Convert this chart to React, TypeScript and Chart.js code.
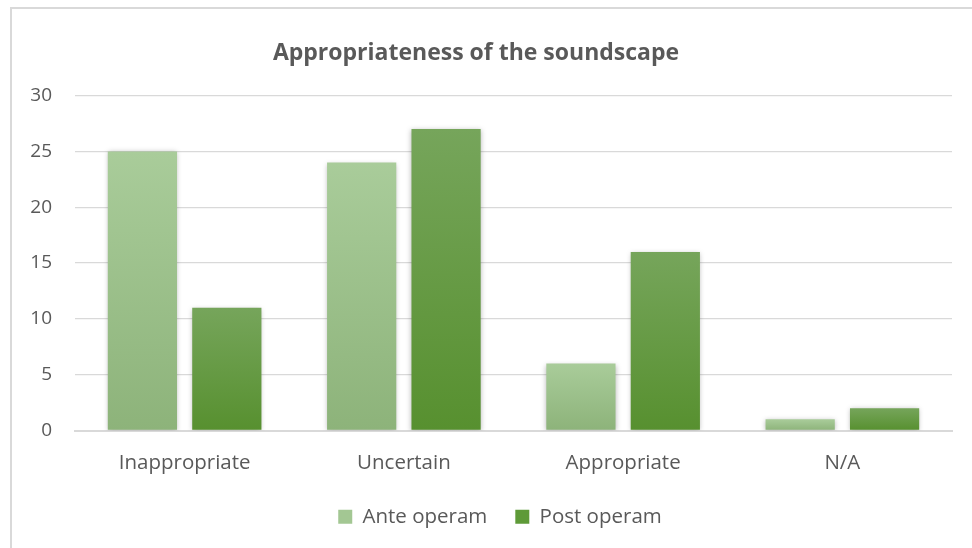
import React, { useEffect, useRef } from "react";
import { Chart, registerables } from "chart.js";

Chart.register(...registerables);

const categories = ["Inappropriate", "Uncertain", "Appropriate", "N/A"];
const anteOperam = [25, 24, 6, 1];
const postOperam = [11, 27, 16, 2];
const seriesNames = ["Ante operam", "Post operam"];
const chartTitle = "Appropriateness of the soundscape";

const FONT = "'Open Sans', Lato, sans-serif";
const TEXT = "#595959";

function barGradient(top: string, bottom: string, fallback: string) {
  return (ctx: any) => {
    const chart = ctx.chart;
    const area = chart.chartArea;
    if (!area || ctx.type !== "data") return fallback;
    const ys = chart.scales.y;
    const v = ctx.raw as number;
    const y0 = ys.getPixelForValue(v);
    const y1 = ys.getPixelForValue(0);
    if (!isFinite(y0) || !isFinite(y1) || y1 - y0 < 0.5) return fallback;
    const g = chart.ctx.createLinearGradient(0, y0, 0, y1);
    g.addColorStop(0, top);
    g.addColorStop(1, bottom);
    return g;
  };
}

const shadowPlugin = {
  id: "barShadow",
  afterLayout(chart: any) {
    if (chart.legend) {
      chart.legend.left += 24;
      chart.legend.right += 24;
    }
  },
  beforeDatasetsDraw(chart: any) {
    const c = chart.ctx;
    c.save();
    c.shadowColor = "rgba(0,0,0,0.28)";
    c.shadowBlur = 5;
    c.shadowOffsetX = 0;
    c.shadowOffsetY = 1;
  },
  afterDatasetsDraw(chart: any) {
    chart.ctx.restore();
  },
};

export default function App() {
  const ref = useRef<HTMLCanvasElement | null>(null);
  useEffect(() => {
    const canvas = ref.current;
    if (!canvas) return;
    const chart = new Chart(canvas, {
      type: "bar",
      data: {
        labels: categories,
        datasets: [
          {
            label: seriesNames[0],
            data: anteOperam,
            backgroundColor: barGradient("#A9CC9A", "#8DB37A", "#A3C793"),
            categoryPercentage: 0.77,
            barPercentage: 0.82,
          },
          {
            label: seriesNames[1],
            data: postOperam,
            backgroundColor: barGradient("#76A55B", "#57902F", "#5E9A38"),
            categoryPercentage: 0.77,
            barPercentage: 0.82,
          },
        ],
      },
      options: {
        responsive: false,
        animation: false,
        devicePixelRatio: 1,
        layout: { padding: { left: 0, right: 20, top: 0, bottom: 11 } },
        plugins: {
          title: {
            display: true,
            text: chartTitle,
            color: TEXT,
            font: { family: FONT, size: 23, weight: "bold" },
            padding: { top: 40, bottom: 28 },
          },
          legend: {
            position: "bottom",
            labels: {
              color: TEXT,
              font: { family: FONT, size: 20.5 },
              boxWidth: 14,
              boxHeight: 14,
              padding: 28,
              generateLabels: () => [
                { text: seriesNames[0], fillStyle: "#A3C793", strokeStyle: "#A3C793", lineWidth: 0, datasetIndex: 0, fontColor: TEXT } as any,
                { text: seriesNames[1], fillStyle: "#5E9A38", strokeStyle: "#5E9A38", lineWidth: 0, datasetIndex: 1, fontColor: TEXT } as any,
              ],
            },
          },
          tooltip: { enabled: false },
        },
        scales: {
          x: {
            grid: { display: false, drawTicks: false },
            border: { display: true, color: "#D9D9D9", width: 2 },
            ticks: { color: TEXT, font: { family: FONT, size: 20.5 }, padding: 20 },
            afterFit: (s: any) => {
              s.height = 48;
            },
          },
          y: {
            min: 0,
            max: 30,
            ticks: { stepSize: 5, color: TEXT, font: { family: FONT, size: 19 }, padding: 23 },
            grid: { color: "#D9D9D9", lineWidth: 1.3, drawTicks: false },
            border: { display: false },
            afterFit: (s: any) => {
              s.width = 75;
            },
          },
        },
      },
      plugins: [shadowPlugin],
    });
    return () => chart.destroy();
  }, []);

  return (
    <div style={{ position: "fixed", left: 0, top: 0, width: 972, height: 548, overflow: "hidden", background: "#fff" }}>
      <canvas ref={ref} width={972} height={548} style={{ position: "absolute", left: 0, top: 0, width: 972, height: 548 }} />
      <div
        style={{
          position: "absolute",
          left: 10,
          top: 7,
          width: 1000,
          height: 600,
          borderLeft: "2px solid #D9D9D9",
          borderTop: "2px solid #D9D9D9",
          pointerEvents: "none",
        }}
      />
    </div>
  );
}
